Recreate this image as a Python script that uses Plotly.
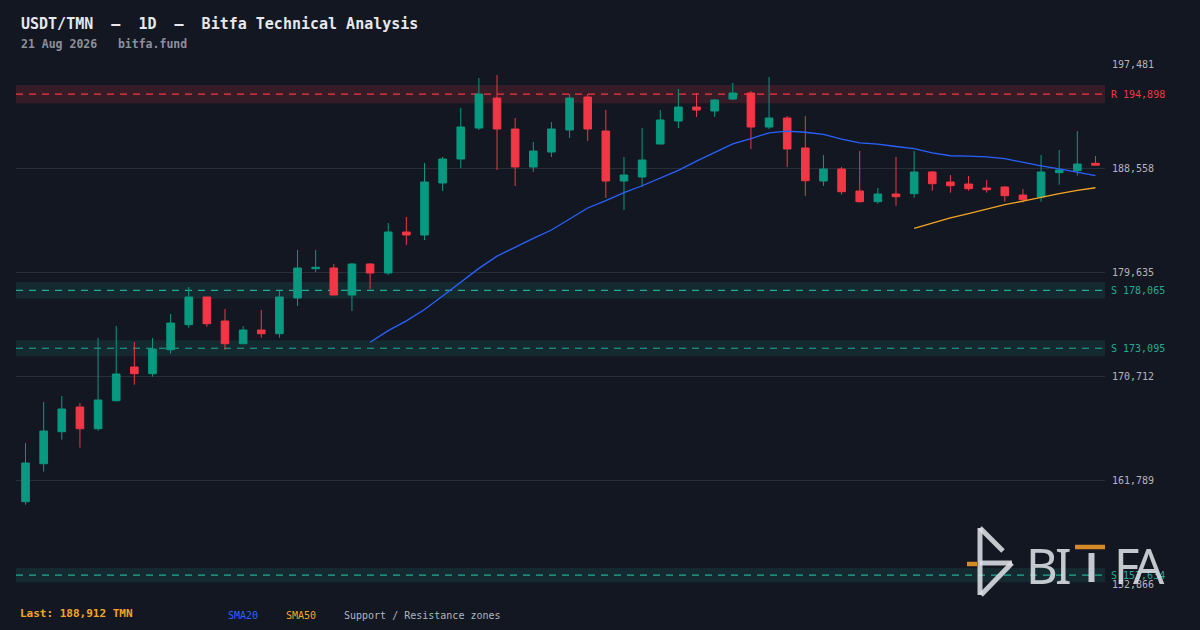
import plotly.graph_objects as go
import pandas as pd

# ---------------- data ----------------
opens = [159927, 163187, 165933, 168052, 166190, 168593, 171484, 170909, 172968, 175113,
         177490, 175431, 173483, 174659, 174341, 177404, 179918, 179978, 177662, 180321,
         179549, 183067, 182809, 187271, 189330, 191990, 194564, 191904, 188644, 189931,
         191818, 194650, 191732, 187443, 187786, 190617, 192590, 193792, 193448, 194478,
         194993, 192076, 192848, 190274, 187443, 188472, 186585, 185667, 186327, 186353,
         188215, 187357, 187185, 186842, 186928, 186241, 186070, 188155, 188326, 188960]
highs = [164964, 168481, 168996, 168396, 173972, 175002, 173629, 173972, 176031, 178348,
         177490, 176460, 175002, 176375, 178005, 181523, 181523, 180321, 180407, 180407,
         183839, 184354, 188987, 189502, 193706, 196280, 196537, 192848, 190789, 192505,
         194907, 194907, 193534, 189502, 191990, 193534, 195336, 194993, 194478, 195851,
         195164, 196366, 193019, 193019, 189673, 188644, 190017, 186842, 189502, 190017,
         188301, 187957, 187872, 187528, 187014, 186756, 189673, 190102, 191732, 189588]
lows = [159670, 162501, 165247, 164560, 166019, 168507, 169966, 170652, 172625, 174856,
        174942, 172968, 173483, 173998, 173998, 176718, 179635, 177640, 176289, 178176,
        179378, 181952, 182381, 186585, 188558, 191818, 188386, 187014, 188215, 189502,
        191132, 190875, 185984, 184954, 186928, 190617, 191990, 192934, 192934, 194392,
        190188, 191904, 188644, 186156, 187014, 186267, 185581, 185495, 185323, 186010,
        186610, 186439, 186610, 186439, 185667, 185581, 185667, 187125, 187897, 188790]
closes = [163248, 165993, 167881, 166190, 168653, 170884, 170909, 173029, 175259, 177490,
          175199, 173483, 174659, 174341, 177490, 179978, 180038, 177662, 180321, 179549,
          183067, 182809, 187357, 189330, 192076, 194907, 191904, 188644, 190017, 191904,
          194564, 191904, 187443, 187957, 189244, 192676, 193792, 193534, 194392, 194993,
          192076, 192848, 190188, 187468, 188472, 186525, 185667, 186327, 186096, 188215,
          187211, 187039, 186782, 186696, 186181, 185838, 188215, 188386, 188901, 188800]
candle_idx = list(range(len(closes)))

tick_values = [197481, 188558, 179635, 170712, 161789, 152866]
tick_labels = ["197,481", "188,558", "179,635", "170,712", "161,789", "152,866"]

resistance_levels = [194898]
resistance_labels = ["R 194,898"]
support_levels = [178065, 173095, 153634]
support_labels = ["S 178,065", "S 173,095", "S 153,634"]

title_text = "USDT/TMN  \u2014  1D  \u2014  Bitfa Technical Analysis"
subtitle_text = "21 Aug 2026   bitfa.fund"
last_text = "Last: 188,912 TMN"

# ---------------- styling ----------------
BG = "#131722"
GREEN = "#089981"
RED = "#f23645"
TEAL = "#22ab94"
BLUE = "#2962ff"
ORANGE = "#f5a524"
MONO = "DejaVu Sans Mono"

W, H = 1200, 630
ML, MR, MT, MB = 16, 95, 64, 46
PW, PH = W - ML - MR, H - MT - MB


def px(xp):
    return (xp - ML) / PW


def py(yp):
    return (H - MB - yp) / PH


s = pd.Series(closes, dtype=float)
sma20 = s.rolling(20).mean()
sma50 = s.rolling(50).mean()

fig = go.Figure()
fig.add_trace(go.Candlestick(
    x=candle_idx, open=opens, high=highs, low=lows, close=closes,
    increasing=dict(line=dict(color=GREEN, width=1), fillcolor=GREEN),
    decreasing=dict(line=dict(color=RED, width=1), fillcolor=RED),
    whiskerwidth=0, showlegend=False, hoverinfo="skip",
))
fig.add_trace(go.Scatter(x=candle_idx, y=sma20, mode="lines",
                         line=dict(color=BLUE, width=1.3), showlegend=False, hoverinfo="skip"))
fig.add_trace(go.Scatter(x=candle_idx, y=sma50, mode="lines",
                         line=dict(color=ORANGE, width=1.3), showlegend=False, hoverinfo="skip"))

shapes = []
annotations = []
ZONE = 0.004
for lv, lab in zip(resistance_levels, resistance_labels):
    shapes.append(dict(type="rect", xref="paper", yref="y", x0=0, x1=1,
                       y0=lv * (1 - ZONE), y1=lv * (1 + ZONE),
                       fillcolor="rgba(242,54,69,0.16)", line=dict(width=0), layer="between"))
    shapes.append(dict(type="line", xref="paper", yref="y", x0=0, x1=1, y0=lv, y1=lv,
                       line=dict(color=RED, width=1.2, dash="7px,6px"), layer="between"))
    annotations.append(dict(x=1, xref="paper", y=lv, yref="y", xanchor="left", xshift=4,
                            text=lab, showarrow=False,
                            font=dict(family=MONO, size=10, color=RED)))
for lv, lab in zip(support_levels, support_labels):
    shapes.append(dict(type="rect", xref="paper", yref="y", x0=0, x1=1,
                       y0=lv * (1 - ZONE), y1=lv * (1 + ZONE),
                       fillcolor="rgba(34,171,148,0.13)", line=dict(width=0), layer="between"))
    shapes.append(dict(type="line", xref="paper", yref="y", x0=0, x1=1, y0=lv, y1=lv,
                       line=dict(color=TEAL, width=1.2, dash="7px,6px"), layer="between"))
    annotations.append(dict(x=1, xref="paper", y=lv, yref="y", xanchor="left", xshift=4,
                            text=lab, showarrow=False,
                            font=dict(family=MONO, size=10, color=TEAL)))

# title / subtitle
annotations.append(dict(x=px(19), y=py(24), xref="paper", yref="paper", xanchor="left",
                        yanchor="middle", showarrow=False, text="<b>" + title_text + "</b>",
                        font=dict(family=MONO, size=15, color="#e6e8ee")))
annotations.append(dict(x=px(19), y=py(44), xref="paper", yref="paper", xanchor="left",
                        yanchor="middle", showarrow=False, text="<b>" + subtitle_text + "</b>",
                        font=dict(family=MONO, size=11.5, color="#8c909c")))
# bottom legend
annotations.append(dict(x=px(18), y=py(613), xref="paper", yref="paper", xanchor="left",
                        yanchor="middle", showarrow=False, text="<b>" + last_text + "</b>",
                        font=dict(family=MONO, size=11, color=ORANGE)))
for xp, txt, col in [(226, "SMA20", BLUE), (284, "SMA50", ORANGE),
                     (342, "Support / Resistance zones", "#b2b5be")]:
    annotations.append(dict(x=px(xp), y=py(615), xref="paper", yref="paper", xanchor="left",
                            yanchor="middle", showarrow=False, text=txt,
                            font=dict(family=MONO, size=10, color=col)))

# watermark logo
LOGO = "rgba(222,224,230,0.88)"
LOGO_OR = "rgba(232,150,40,0.92)"
for (xa, ya, xb, yb) in [(980, 528, 980, 595), (980, 528, 1003, 551),
                         (980, 563, 1012, 563), (1012, 563, 981, 595)]:
    shapes.append(dict(type="line", xref="paper", yref="paper", x0=px(xa), y0=py(ya),
                       x1=px(xb), y1=py(yb), line=dict(color=LOGO, width=5), layer="above"))
shapes.append(dict(type="line", xref="paper", yref="paper", x0=px(967), y0=py(564),
                   x1=px(977), y1=py(564), line=dict(color=LOGO_OR, width=4.5), layer="above"))
# letters B, I, F, A as text; T drawn as stem + orange crossbar
for cx, letter in [(1042, "B"), (1063.5, "I"), (1126, "F"), (1149, "A")]:
    annotations.append(dict(x=px(cx), y=py(565), xref="paper", yref="paper", xanchor="center",
                            yanchor="middle", showarrow=False, text=letter,
                            font=dict(family="Noto Sans", size=49, color=LOGO)))
shapes.append(dict(type="line", xref="paper", yref="paper", x0=px(1091.5), y0=py(553),
                   x1=px(1091.5), y1=py(582), line=dict(color=LOGO, width=6), layer="above"))
shapes.append(dict(type="line", xref="paper", yref="paper", x0=px(1075), y0=py(547),
                   x1=px(1105), y1=py(547), line=dict(color=LOGO_OR, width=4.5), layer="above"))

fig.update_layout(
    width=W, height=H,
    margin=dict(l=ML, r=MR, t=MT, b=MB),
    paper_bgcolor=BG, plot_bgcolor=BG,
    showlegend=False,
    shapes=shapes, annotations=annotations,
    boxgap=0.4,
    xaxis=dict(range=[-0.525, len(closes) - 0.475], visible=False, showgrid=False,
               rangeslider=dict(visible=False), fixedrange=True),
    yaxis=dict(range=[tick_values[-1], tick_values[0]], side="right",
               tickvals=tick_values, ticktext=tick_labels,
               gridcolor="#2a2e39", gridwidth=1, zeroline=False, showline=False,
               ticks="", ticklabelstandoff=6,
               tickfont=dict(family=MONO, size=10, color="#b2b5be"), fixedrange=True),
)

fig.write_html(
    "out.html",
    config={"displayModeBar": False, "staticPlot": True},
    post_script=("document.documentElement.style.margin='0';"
                 "document.body.style.margin='0';"
                 "document.body.style.overflow='hidden';"
                 "document.body.style.background='" + BG + "';"),
)
